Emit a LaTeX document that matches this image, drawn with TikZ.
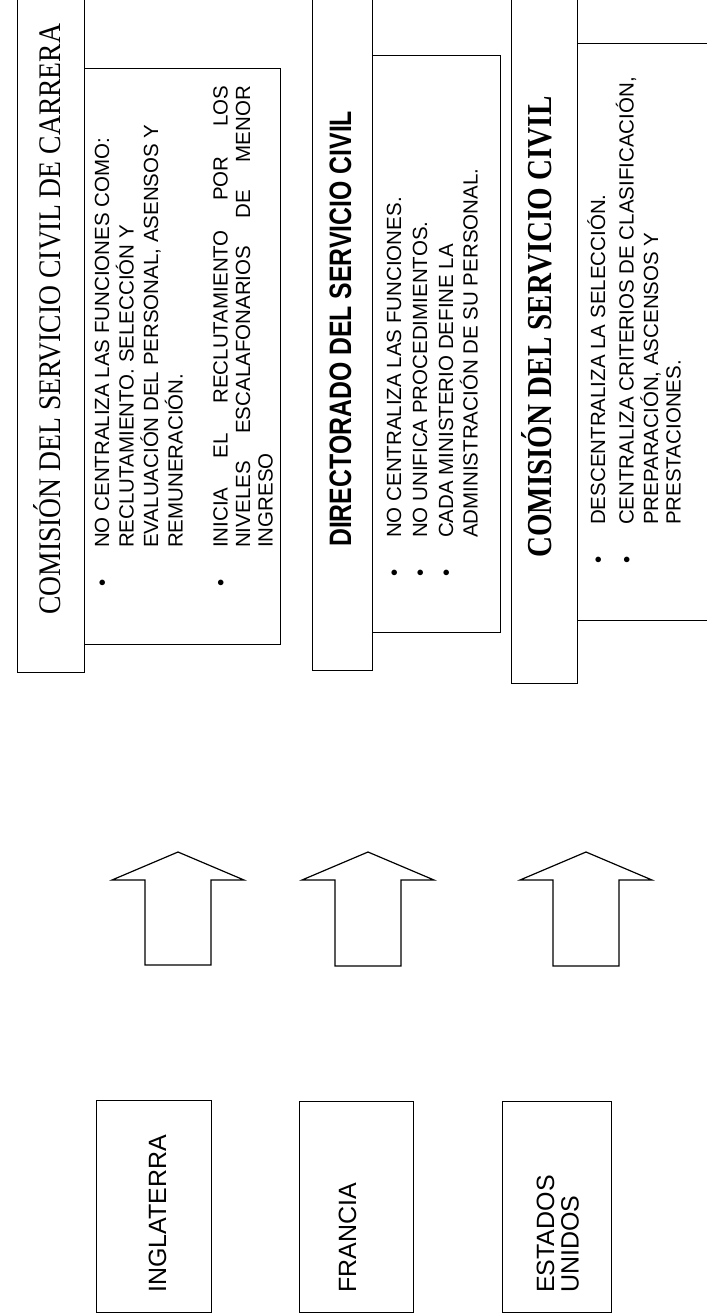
\documentclass[tikz,border=0pt]{standalone}
\usepackage{fontspec}
\setmainfont{Liberation Sans}
\newfontfamily\fuenteserif[FakeStretch=0.88]{Liberation Serif}
\newfontfamily\fuenteserifn[FakeStretch=0.83]{Liberation Serif}
\newfontfamily\fuentetitulo[FakeStretch=0.8]{Liberation Sans}

\tikzstyle{caja} = [rectangle, draw=black, line width=1.2pt, inner sep=0pt, anchor=north west]
\tikzstyle{pais} = [rotate=90, anchor=base west, inner sep=0pt, font=\fontsize{25}{24}\selectfont]
\tikzstyle{titulo} = [rotate=90, anchor=base west, inner sep=0pt]
\tikzstyle{texto} = [rotate=90, anchor=base west, inner sep=0pt, font=\fontsize{20.5}{22.5}\selectfont]
\tikzstyle{flecha} = [draw=black, line width=1.2pt, line join=miter]

\begin{document}
\begin{tikzpicture}[x=1pt, y=-1pt]
\useasboundingbox (0,0) rectangle (707,1315);

% Cajas de los sistemas
\node (titA) [caja, minimum width=67pt, minimum height=692pt] at (17,-20) {};
\node (contA) [caja, minimum width=196pt, minimum height=576pt] at (84,68) {};
\node (titB) [caja, minimum width=60pt, minimum height=690pt] at (312,-20) {};
\node (contB) [caja, minimum width=128pt, minimum height=577pt] at (372,55) {};
\node (titC) [caja, minimum width=66pt, minimum height=703pt] at (511,-20) {};
\node (contC) [caja, minimum width=153pt, minimum height=577pt] at (577,43) {};

% Titulos
\node (textoTitA) [titulo, font=\fuenteserif\fontsize{31.4}{34}\selectfont] at (60,615) {COMISIÓN DEL SERVICIO CIVIL DE CARRERA};
\node (textoTitB) [titulo, font=\fuentetitulo\bfseries\fontsize{31}{34}\selectfont] at (351,547) {DIRECTORADO DEL SERVICIO CIVIL};
\node (textoTitC) [titulo, font=\fuenteserifn\bfseries\fontsize{35}{38}\selectfont] at (551.5,558) {COMISIÓN DEL SERVICIO CIVIL};

% Contenido
\node (textoA) [texto] at (109,586.6) {\begin{tabular}[t]{@{}l@{\hspace{31.4pt}}l@{}}
\textbullet & NO CENTRALIZA LAS FUNCIONES COMO:\\
 & RECLUTAMIENTO. SELECCIÓN Y\\
 & EVALUACIÓN DEL PERSONAL, ASENSOS Y\\
 & REMUNERACIÓN.\\
 & \\
\textbullet & \makebox[462pt][s]{INICIA EL RECLUTAMIENTO POR LOS}\\
 & \makebox[462pt][s]{NIVELES ESCALAFONARIOS DE MENOR}\\
 & INGRESO
\end{tabular}};
\node (textoB) [texto] at (401,576.6) {\begin{tabular}[t]{@{}l@{\hspace{31.4pt}}l@{}}
\textbullet & NO CENTRALIZA LAS FUNCIONES.\\[3.5pt]
\textbullet & NO UNIFICA PROCEDIMIENTOS.\\[3.5pt]
\textbullet & CADA MINISTERIO DEFINE LA\\
 & ADMINISTRACIÓN DE SU PERSONAL.
\end{tabular}};
\node (textoC) [texto] at (605,563.6) {\begin{tabular}[t]{@{}l@{\hspace{31.4pt}}l@{}}
\textbullet & DESCENTRALIZA LA SELECCIÓN.\\[4pt]
\textbullet & CENTRALIZA CRITERIOS DE CLASIFICACIÓN,\\
 & PREPARACIÓN, ASCENSOS Y\\
 & PRESTACIONES.
\end{tabular}};

% Paises
\node (ing) [caja, minimum width=115pt, minimum height=212pt] at (96,1100) {};
\node (fra) [caja, minimum width=114pt, minimum height=211pt] at (299,1101) {};
\node (eeuu) [caja, minimum width=109pt, minimum height=211pt] at (502,1101) {};
\node (textoIng) [pais] at (166,1293) {INGLATERRA};
\node (textoFra) [pais] at (356,1293) {FRANCIA};
\node (textoEeuu) [pais] at (554,1293) {\begin{tabular}[t]{@{}l@{}}ESTADOS\\UNIDOS\end{tabular}};

% Flechas
\coordinate (puntaA) at (178,852);
\coordinate (puntaB) at (368,852);
\coordinate (puntaC) at (586,852);
\draw [flecha] (puntaA) -- ++(66,28) -- ++(-33,0) -- ++(0,85) -- ++(-66,0) -- ++(0,-85) -- ++(-33,0) -- cycle;
\draw [flecha] (puntaB) -- ++(66,28) -- ++(-33,0) -- ++(0,86) -- ++(-66,0) -- ++(0,-86) -- ++(-33,0) -- cycle;
\draw [flecha] (puntaC) -- ++(66,28) -- ++(-33,0) -- ++(0,86) -- ++(-66,0) -- ++(0,-86) -- ++(-33,0) -- cycle;

\end{tikzpicture}
\end{document}
